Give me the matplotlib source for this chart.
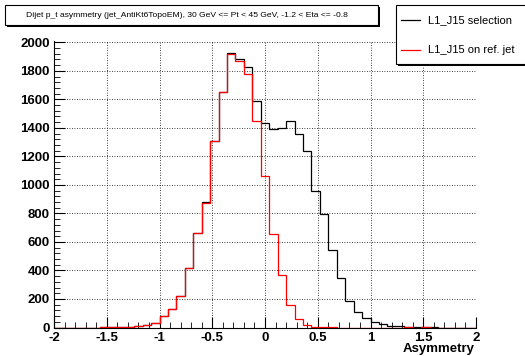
import numpy as np
import matplotlib
matplotlib.use("Agg")
import matplotlib.pyplot as plt
from matplotlib.ticker import MultipleLocator, FuncFormatter
from matplotlib.patches import Rectangle
from matplotlib.lines import Line2D

plt.rcParams['font.family'] = ['Liberation Sans', 'DejaVu Sans']
plt.rcParams['axes.unicode_minus'] = False

# 51 bins of width 0.08, centred on multiples of 0.08
edges = np.linspace(-2.04, 2.04, 52)

# L1_J15 selection (black)
sel_counts = [0, 0, 0, 0, 0, 0,
              1, 2, 4, 5, 8, 18, 33, 81, 131, 219, 418, 662, 877, 1309, 1651,
              1925, 1880, 1824, 1588,
              1431,
              1391, 1401, 1448, 1359, 1239, 955, 798, 543, 345, 184, 108, 64, 41, 27,
              9, 8, 3, 2, 1, 1, 0, 0, 0, 0, 0]

# L1_J15 on ref. jet (red)
ref_counts = [0, 0, 0, 0, 0, 0,
              1, 2, 4, 5, 8, 18, 32, 80, 130, 218, 417, 660, 875, 1307, 1649,
              1920, 1866, 1775, 1448,
              1060,
              655, 366, 158, 60, 20, 6, 2, 1, 0, 0, 0, 0, 0, 0,
              0, 0, 1, 0, 1, 0, 0, 0, 0, 0, 0]

title = "Dijet p_t asymmetry (jet_AntiKt6TopoEM), 30 GeV <= Pt < 45 GeV, -1.2 < Eta <= -0.8"
labels = ["L1_J15 selection", "L1_J15 on ref. jet"]

W, H = 525, 356
fig = plt.figure(figsize=(W / 100, H / 100), dpi=100)

def fx(px):
    return px / W

def fy(py):
    return 1 - py / H

ax = fig.add_axes([fx(54), fy(327.5), fx(476) - fx(54), fy(40.9) - fy(327.5)])

ax.stairs(sel_counts, edges, color='black', linewidth=0.9)
ax.stairs(ref_counts, edges, color='#ff0000', linewidth=0.9)

ax.set_xlim(-2, 2)
ax.set_ylim(0, 2010)

ax.xaxis.set_major_locator(MultipleLocator(0.5))
ax.xaxis.set_minor_locator(MultipleLocator(0.1))
ax.yaxis.set_major_locator(MultipleLocator(200))
ax.yaxis.set_minor_locator(MultipleLocator(40))
ax.xaxis.set_major_formatter(FuncFormatter(lambda v, p: "%g" % v))
ax.yaxis.set_major_formatter(FuncFormatter(lambda v, p: "%d" % v))

ax.tick_params(which='both', direction='in', top=False, right=False)
ax.tick_params(which='major', length=8, width=0.8, labelsize=9.5, pad=3)
ax.tick_params(which='minor', length=4, width=0.6)
for lab in ax.get_xticklabels() + ax.get_yticklabels():
    lab.set_fontweight('bold')

ax.grid(True, which='major', color='black', linestyle=(0, (1, 2)), linewidth=0.6)
ax.set_axisbelow(True)
for s in ['top', 'right']:
    ax.spines[s].set_visible(False)
ax.spines['left'].set_linewidth(0.8)
ax.spines['bottom'].set_linewidth(0.8)

fig.text(fx(475), fy(349), "Asymmetry", ha='right', va='center',
         fontsize=9.5, fontweight='bold')

# boxes with a ROOT-like shadow
def box(x0, y0, x1, y1):
    fig.add_artist(Rectangle((fx(x0 + 2), fy(y1 + 2)), fx(x1) - fx(x0), fy(y0) - fy(y1),
                             transform=fig.transFigure, facecolor='black', edgecolor='none'))
    fig.add_artist(Rectangle((fx(x0), fy(y1)), fx(x1) - fx(x0), fy(y0) - fy(y1),
                             transform=fig.transFigure, facecolor='white',
                             edgecolor='black', linewidth=0.8))

box(5, 5, 378, 25)
fig.text(fx(187), fy(15.5), title, ha='center', va='center', fontsize=6.1)

# legend
box(396, 5, 530, 64)
colors = ['black', '#ff0000']
ys = [20, 50]
for lab, c, yy in zip(labels, colors, ys):
    fig.add_artist(Line2D([fx(401), fx(420)], [fy(yy), fy(yy)], color=c,
                          linewidth=0.9, transform=fig.transFigure))
    fig.text(fx(428), fy(yy), lab, ha='left', va='center', fontsize=8)

fig.savefig("out.png", dpi=100)
